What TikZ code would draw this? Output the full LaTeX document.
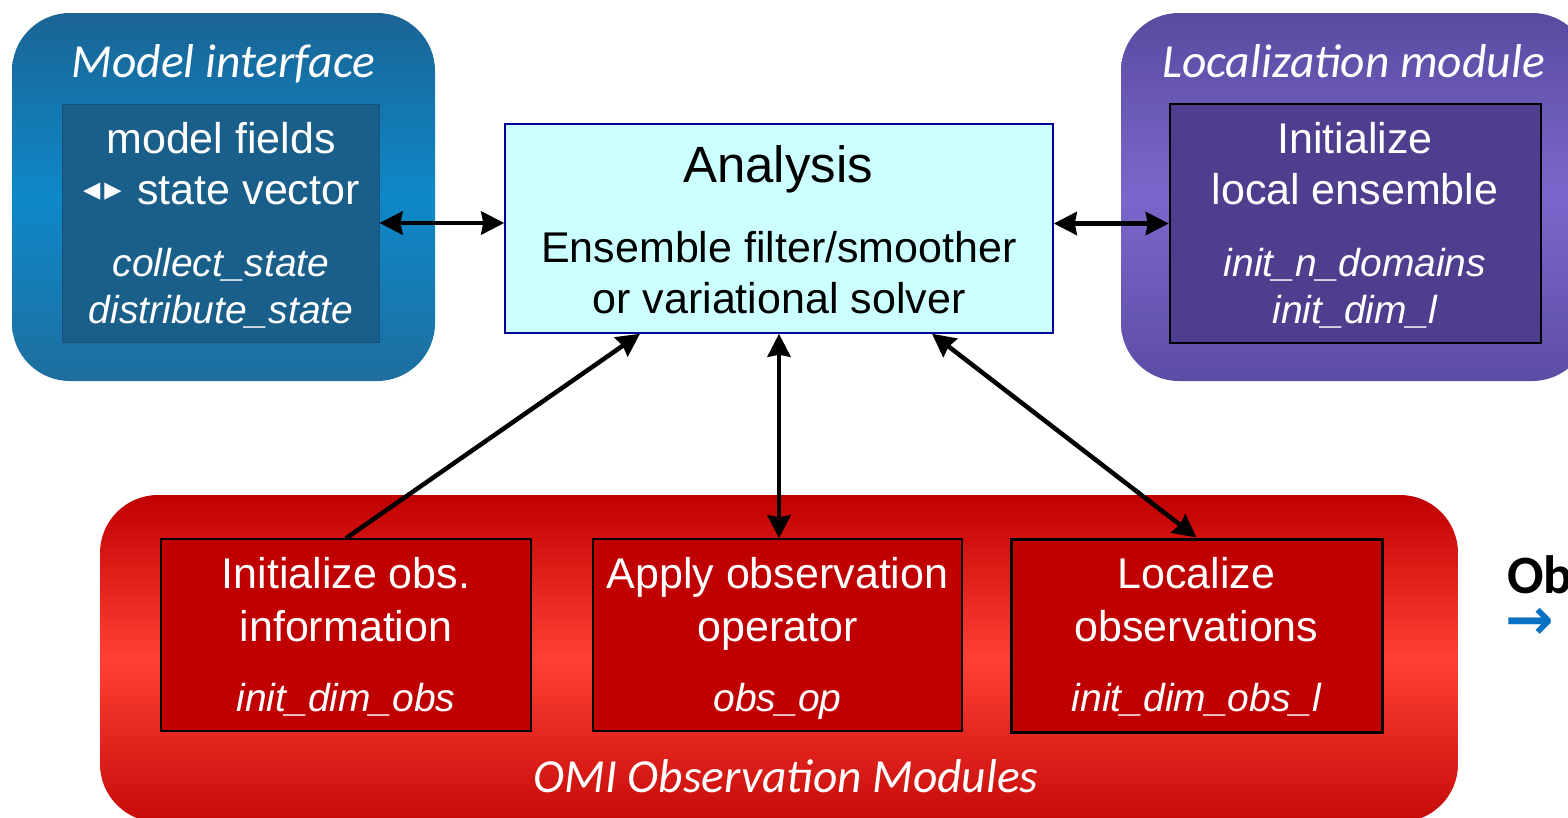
\documentclass[tikz,border=0pt]{standalone}
\usepackage{fontspec}
\setmainfont{Liberation Sans}
\newfontfamily\calfont{Carlito}
\newfontfamily\dvfont{DejaVu Sans}
\usetikzlibrary{arrows.meta}
\definecolor{bluetop}{HTML}{1A6494}
\definecolor{bluemid}{HTML}{0E88C8}
\definecolor{bluebot}{HTML}{1E6E9F}
\definecolor{blueinner}{HTML}{1A5E8A}
\definecolor{blueline}{HTML}{174F78}
\definecolor{purtop}{HTML}{5A4AA0}
\definecolor{purmid}{HTML}{7B67CB}
\definecolor{purbot}{HTML}{5D4CA5}
\definecolor{purinner}{HTML}{4F3D8E}
\definecolor{redtop}{HTML}{C00000}
\definecolor{redmid}{HTML}{FF4035}
\definecolor{redbot}{HTML}{C50A08}
\definecolor{redinner}{HTML}{C00000}
\definecolor{anafill}{HTML}{CCFFFF}
\definecolor{analine}{HTML}{000099}
\definecolor{arrowblue}{HTML}{0A72C4}
\begin{document}
\begin{tikzpicture}[x=1pt,y=-1pt,
  outerbox/.style={rectangle, rounded corners=58pt, draw=none, inner sep=0pt},
  innerbox/.style={rectangle, inner sep=0pt},
  titletext/.style={font=\calfont\itshape\fontsize{47.5}{47.5}\selectfont, text=white, anchor=base, inner sep=0pt},
  bodytext/.style={font=\fontsize{43}{43}\selectfont, text=white, anchor=base, inner sep=0pt},
  codetext/.style={font=\itshape\fontsize{39}{39}\selectfont, text=white, anchor=base, inner sep=0pt},
  anatext/.style={font=\fontsize{43}{43}\selectfont, anchor=base, inner sep=0pt},
  conn/.style={line width=4.5pt, draw=black},
  bothtips/.style={{Stealth[length=23pt,width=23pt,inset=2pt]}-{Stealth[length=23pt,width=23pt,inset=2pt]}},
  endtip/.style={-{Stealth[length=23pt,width=23pt,inset=2pt]}}
]
\useasboundingbox (0,0) rectangle (1568,817);
\clip (0,0) rectangle (1568,817);
\fill[white] (0,0) rectangle (1568,817);

% outer module boxes
\node[outerbox, minimum width=423pt, minimum height=368pt,
  top color=bluetop, bottom color=bluebot, middle color=bluemid] (mif) at (223.5,197) {};
\node[outerbox, minimum width=469pt, minimum height=368pt,
  top color=purtop, bottom color=purbot, middle color=purmid] (loc) at (1355.5,197) {};
\node[outerbox, minimum width=1358pt, minimum height=327pt,
  top color=redtop, bottom color=redbot, middle color=redmid] (omi) at (779,658.5) {};

% inner boxes
\node[innerbox, minimum width=317pt, minimum height=238pt, fill=blueinner, draw=blueline, line width=1pt] (mi) at (220.5,223) {};
\node[innerbox, minimum width=371pt, minimum height=239pt, fill=purinner, draw=black, line width=2.5pt] (li) at (1355.5,223.5) {};
\node[innerbox, minimum width=548pt, minimum height=209pt, fill=anafill, draw=analine, line width=1.5pt] (ana) at (779,228.5) {};
\node[innerbox, minimum width=370pt, minimum height=192pt, fill=redinner, draw=black, line width=1.5pt] (o1) at (346,635) {};
\node[innerbox, minimum width=369pt, minimum height=192pt, fill=redinner, draw=black, line width=1.5pt] (o2) at (777.5,635) {};
\node[innerbox, minimum width=371pt, minimum height=193pt, fill=redinner, draw=black, line width=3pt] (o3) at (1196.5,635.5) {};

% titles
\node[titletext] (t1) at (223.5,77) {Model interface};
\node[titletext] (t2) at (1353.5,77) {Localization module};
\node[titletext] (t3) at (786,792) {OMI Observation Modules};

% model interface texts
\node[bodytext] (m1) at (221,153) {model fields};
\node[inner sep=0pt, text=white, font=\dvfont\fontsize{22.5}{22.5}\selectfont] (m2a) at (102.5,191.5) {◀\hspace{4pt}▶};
\node[bodytext] (m2) at (248.5,204) {state vector};
\node[codetext] (m3) at (221,276) {collect\_state};
\node[codetext] (m4) at (221,323) {distribute\_state};

% localization texts
\node[bodytext] (l1) at (1355,153) {Initialize};
\node[bodytext] (l2) at (1355,204) {local ensemble};
\node[codetext] (l3) at (1355,276) {init\_n\_domains};
\node[codetext] (l4) at (1355,323) {init\_dim\_l};

% analysis texts
\node[anchor=base, inner sep=0pt, font=\fontsize{51}{51}\selectfont] (a1) at (778,182) {Analysis};
\node[anatext] (a2) at (779,262) {Ensemble filter/smoother};
\node[anatext] (a3) at (779,313) {or variational solver};

% observation module texts
\node[bodytext] (r1a) at (346,588) {Initialize obs.};
\node[bodytext] (r1b) at (346,641) {information};
\node[codetext] (r1c) at (346,711) {init\_dim\_obs};
\node[bodytext] (r2a) at (777.5,588) {Apply observation};
\node[bodytext] (r2b) at (777.5,641) {operator};
\node[codetext] (r2c) at (777.5,711) {obs\_op};
\node[bodytext] (r3a) at (1196.5,588) {Localize};
\node[bodytext] (r3b) at (1196.5,641) {observations};
\node[codetext] (r3c) at (1196.5,711) {init\_dim\_obs\_l};

% side text, cut off by the right edge as in the reference
\node[anchor=base west, inner sep=0pt, font=\calfont\bfseries\fontsize{54}{54}\selectfont] (ob) at (1507,593) {Ob};
\node[inner sep=0pt, text=arrowblue, font=\dvfont\bfseries\fontsize{58}{58}\selectfont] (obarrow) at (1530,624) {→};

% connectors
\draw[conn, bothtips] (mi.east) -- (ana.west |- mi.east);
\draw[conn, bothtips] (ana.east |- li.west) -- (li.west);
\draw[conn, endtip] (o1.north) -- ([xshift=-139pt]ana.south);
\draw[conn, bothtips] (ana.south) -- (ana.south |- o2.north);
\draw[conn, bothtips] ([xshift=153pt]ana.south) -- (o3.north);
\end{tikzpicture}
\end{document}
